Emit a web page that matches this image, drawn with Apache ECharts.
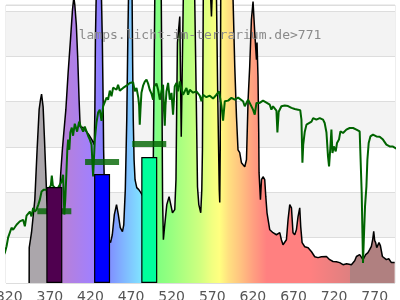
<!DOCTYPE html>
<html><head><meta charset="utf-8">
<script src="https://cdn.jsdelivr.net/npm/echarts@6/dist/echarts.min.js"></script>
<style>html,body{margin:0;padding:0;background:#fff}#c{width:400px;height:300px}</style>
</head><body><div id="c"></div><script>
const xTicks = [320,370,420,470,520,570,620,670,720,770];
const titleText = 'lamps.licht-im-terrarium.de>771';
const spectrum = [
[344.5,0],[344.6,15.6],[347.4,22.2],[351.5,36.8],[354.3,58.8],[356.8,76.5],[358.5,80.9],[359.8,83.4],[361.7,77.8],[363.4,63.3],[364.7,51.3],[366.3,36.8],[370,24.4],[374.9,21.3],[378.6,25.7],[381.1,34.6],[383.5,49.1],[385.4,58.8],[387.2,66.4],[389.7,76.5],[392.5,92.8],[395.4,107.4],[397.9,120.7],[399.5,126],[400.7,122.9],[402.6,114],[404.4,98.6],[406,80.9],[407.3,69],[410.6,68.6],[414.3,67.2],[418,65.5],[421.7,63.3],[424.7,61.1],[425.4,75.2],[426.1,107.4],[427,125.1],[430.3,142.8],[433.6,125.1],[434.6,107.4],[435.6,80.9],[436.2,58.8],[437,45.6],[438.9,30.2],[441.4,20],[444.7,17.8],[446.9,21.3],[449.4,30.2],[452.1,34.6],[454.3,30.2],[456.7,24.4],[459.4,22.7],[461,25.7],[462.9,41.2],[464.7,72.1],[466,107.4],[466.8,125.1],[469,142.8],[471.3,125.1],[471.9,98.6],[472.7,72.1],[473.7,54.4],[474.9,45.6],[477,42.1],[479.5,41.2],[482,39.9],[486.9,36.8],[491.8,34.6],[495.5,36.8],[497.4,54.4],[498.3,89.8],[499.2,125.1],[502.9,142.8],[507.2,125.1],[508.1,80.9],[508.8,36.8],[509.8,19.1],[511.5,25.7],[514,34.6],[516.8,38.1],[518.9,34.6],[521,31],[523.8,32.4],[525.3,45.6],[526.3,80.9],[527.1,106.1],[530,117.6],[531.8,64.6],[534.3,125.1],[541,142.8],[548.4,125.1],[550.3,80.9],[551.8,42.5],[553.4,34.6],[555.8,31],[557.1,41.2],[557.9,58.8],[558.9,125.1],[563.2,142.8],[568.1,125.1],[569,117.6],[569.7,125.1],[571.8,138.3],[575.2,125.1],[576.8,80.9],[578.6,41.2],[579.2,35.5],[579.8,58.8],[580.4,125.1],[587.8,142.8],[595.6,125.1],[597.7,95.5],[599.8,73.4],[601.7,58.8],[603.8,57.5],[605.9,53.1],[607.9,52.2],[610,51.3],[612.1,54.4],[614.1,80.9],[616.1,95.5],[618.2,116.3],[620.2,124.2],[622.3,110.5],[624.4,98.6],[625.1,106.1],[626.3,91.1],[627.2,66.4],[627.6,48.7],[629.3,36.8],[630.6,45.6],[632.5,46.9],[634.6,45.6],[635.9,38.1],[637.4,31],[640.8,23.5],[644.8,22.2],[649,21.3],[653.1,22.2],[655.1,19.1],[657.1,16.9],[661.3,19.1],[663.3,27.9],[665.4,34.6],[667.5,33.2],[669.4,22.2],[671.5,21.3],[673.6,23.5],[675.6,29.3],[677.7,33.2],[678.9,24.9],[680.6,17.8],[683.9,16],[688,15.6],[692.2,13.8],[696.2,11.6],[700.2,11.2],[704.4,11.6],[710.6,11.7],[714.6,10.3],[718.7,9.5],[722.8,9.4],[726.9,9],[731,8.1],[735.5,8.5],[741.3,8.1],[745.4,9.8],[747.5,11.7],[749.4,11.6],[751.5,12.5],[755.6,10.3],[758.9,12.5],[761.7,13.4],[763.8,14.7],[765.9,16.2],[767.5,19.1],[768.8,22.8],[770,18.7],[771.2,17.8],[772.5,15.6],[774.1,16.2],[775.3,17.8],[777,16.5],[779.5,11.7],[781.1,12.5],[784.4,10.3],[787.3,10.7],[790.6,9],[794.6,9.1]
];
const daylight = [
[308.4,6.6],[312.5,11.7],[314.6,13.4],[316.7,16.2],[318.6,20],[322.8,24.4],[324.8,23.5],[329,25.7],[333,27.2],[337.1,27.9],[339.2,25],[341.3,29.7],[345.4,31.5],[347.4,29.4],[349.4,33.1],[351.5,31.5],[353.6,32.4],[355.8,34.6],[357.7,36.8],[359.8,40.4],[362.6,41.2],[363.8,40.4],[367.5,41.2],[371.2,43],[372.4,47.4],[373.7,43],[378.6,41.2],[384.4,44.7],[386.3,47.8],[387.8,30.2],[389,36.8],[390.3,47.8],[391.5,58.8],[392.5,63.3],[394,58.8],[395.2,66.4],[397,68.6],[398.6,65],[400.7,70.3],[403.6,66.8],[406,71.2],[408.1,69],[411,66.8],[413,69],[415.1,68.6],[417.1,65],[419.2,63.3],[421.3,61.1],[423.3,47],[425.4,63.3],[427.4,70.8],[429.4,75.2],[431.5,76.5],[433.6,71.6],[435.6,78],[439.8,81.8],[441.7,80.9],[443.8,84.9],[445.9,82.4],[447.9,86.2],[450,86.7],[452.1,85.3],[454,87.5],[456.1,84.9],[458.2,84.6],[460.2,86.1],[464.4,87.1],[468.4,88.3],[470.5,89],[472.5,88.6],[474.6,84.6],[476.7,86.1],[478.9,81.8],[479.9,78.3],[480.7,69.9],[481.6,76.5],[482.8,84],[484.8,87.1],[486.9,88.9],[489,89.8],[491,88],[493,85.3],[495.1,83.6],[497.1,80.9],[498.2,86.7],[501.3,88],[503.3,85.3],[505.4,80.9],[507.5,84.6],[509.4,87.5],[510.5,76.5],[511.5,69.4],[512.4,78.3],[513.6,84.5],[515.6,88.3],[517.7,80.9],[519.8,83.9],[521.7,74.3],[523.8,86.8],[525.9,88.3],[527.9,84.6],[530,89],[532.1,85.3],[534,83.1],[536.1,83.9],[538.2,86.1],[540.2,83.1],[542.3,85.3],[546.3,84],[550.5,84.6],[554.6,82.7],[556.7,80.2],[558.6,83.1],[562.8,82],[566.9,82.7],[571,81.4],[575.1,83.1],[578.3,84.6],[581.4,78],[583.3,71.7],[585.4,80.2],[589.5,80.5],[593.6,81.7],[597.7,80.9],[601.8,81.8],[603.8,81.8],[607.9,80.2],[610,78],[612.1,79.5],[614.1,80.9],[616.1,81.7],[620.2,76.5],[622.3,74.3],[624.4,79.5],[628.4,79.5],[632.5,80.5],[636.7,79.6],[640.8,78.7],[642.8,76.5],[644.8,78],[649,76.1],[650.2,66.4],[651.8,75.6],[655.1,78],[659.2,78.3],[663.3,78.1],[667.5,77.3],[671.5,76.8],[675.6,76.5],[678.3,76.3],[679.8,72.1],[681,53.1],[682,61.1],[683.9,66.8],[686,69.9],[688,69.4],[692.2,71.2],[694.2,72.8],[698.2,72.1],[702.3,72.8],[706.4,72.1],[708.4,70.6],[710.6,66.4],[712.5,55.9],[713.8,51.5],[715.5,60.3],[716.7,67.7],[718,57.4],[719.6,60.3],[722,58.1],[723.6,61.8],[726,63.3],[727.8,66.9],[731,66.2],[735.1,67.7],[739.2,68.4],[743.4,68.4],[747.5,67.7],[751.5,66.9],[753.6,66.2],[754,39.7],[754.9,22.1],[755.6,8.8],[756.9,22.2],[758.1,33.8],[759.8,42.6],[761,54.4],[762.6,61.8],[764.7,64.7],[767.9,65.5],[772.1,64.7],[776.1,64.6],[780.2,63.3],[784.4,61.1],[788.4,60.3],[792.5,60.2],[796.7,59.3],[800.8,58.1]
];
const barNm = [375.5, 434.3, 492.4];
const barVal = [42.4, 48.1, 55.6];
const markerVal = [31.7, 53.4, 61.4];

const barColors = ['#4f004f', '#0000ff', '#00ff9c'];
const gradStops = [
  [344.5,'#aba6ab'],[380,'#aba6ab'],[381,'#bb80d6'],[386,'#b880d8'],[423,'#a080ff'],[432,'#8a80ff'],
  [444,'#8090ff'],[460,'#80b4ff'],[481,'#80e0ff'],[491,'#80ffd8'],[502,'#80ff80'],[520,'#98ff80'],
  [555,'#d0ff80'],[570,'#f2ff80'],[579,'#ffff80'],[590,'#ffe080'],[604,'#ffc480'],[620,'#ffa080'],
  [637,'#ff8080'],[690,'#ff8080'],[739.8,'#de8080'],[740,'#b08080'],[794.6,'#b08080']
];
const nm0 = spectrum[0][0], nm1 = spectrum[spectrum.length - 1][0];
const colorStops = gradStops.map(function (s) {
  return { offset: Math.min(1, Math.max(0, (s[0] - nm0) / (nm1 - nm0))), color: s[1] };
});

const chart = echarts.init(document.getElementById('c'), null, { renderer: 'canvas' });
chart.setOption({
  animation: false,
  title: {
    text: titleText, left: 'center', top: 24, z: 20,
    textStyle: { fontFamily: 'DejaVu Sans Mono', fontSize: 13, fontWeight: 'normal', color: '#8a8a8a' }
  },
  grid: { left: 6, right: 5, top: 5, bottom: 17, show: true, borderColor: '#dddddd', borderWidth: 1,
          containLabel: false, outerBoundsMode: 'none' },
  xAxis: {
    type: 'value', min: 316, max: 795,
    axisLine: { show: false }, axisTick: { show: false }, splitLine: { show: false },
    axisLabel: { customValues: xTicks, color: '#555', fontSize: 14, fontFamily: 'DejaVu Sans', margin: 7 }
  },
  yAxis: {
    type: 'value', min: 0, max: 122.7, interval: 20,
    axisLabel: { show: false }, axisLine: { show: false }, axisTick: { show: false },
    splitLine: { lineStyle: { color: '#dddddd' } },
    splitArea: { show: true, areaStyle: { color: ['#ffffff', '#f3f3f3'] } }
  },
  series: [
    {
      type: 'line', data: spectrum, symbol: 'none', clip: false, z: 1,
      lineStyle: { color: '#000', width: 1.5 },
      areaStyle: { opacity: 1, color: { type: 'linear', x: 0, y: 0, x2: 1, y2: 0, colorStops: colorStops } }
    },
    {
      type: 'line', data: daylight, symbol: 'none', clip: false, z: 2,
      lineStyle: { color: '#006400', width: 2 }
    },
    {
      type: 'scatter', z: 3, data: barNm.map(function (n, i) { return [n, markerVal[i]]; }),
      symbol: 'rect', symbolSize: [34, 6], itemStyle: { color: '#006400' }
    },
    {
      type: 'bar', barWidth: 16, z: 4,
      data: barNm.map(function (n, i) { return { value: [n, barVal[i]], itemStyle: { color: barColors[i] } }; }),
      itemStyle: { borderColor: '#000', borderWidth: 1.2 }
    }
  ]
});
</script></body></html>
